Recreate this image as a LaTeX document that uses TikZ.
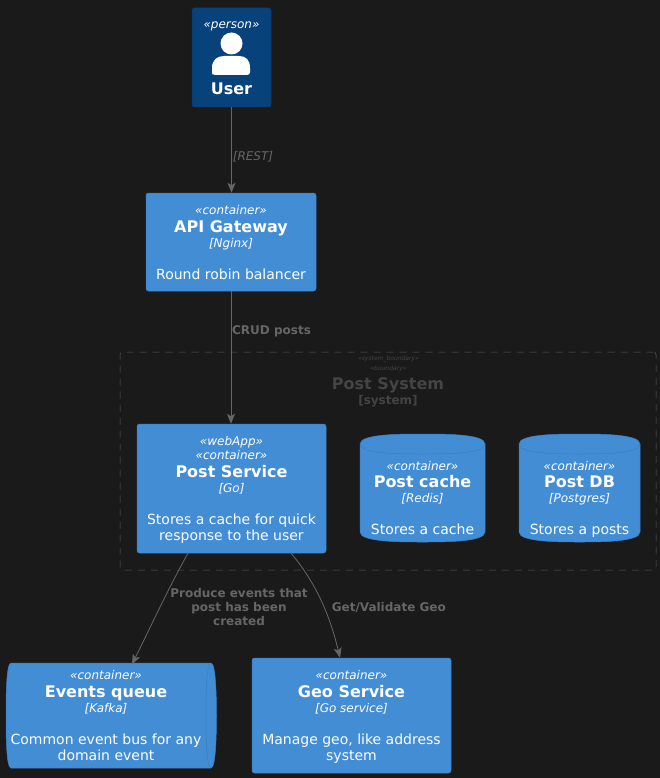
\documentclass[tikz,border=0pt]{standalone}
\usepackage{fontspec}
\setmainfont{DejaVu Sans}
\usetikzlibrary{arrows.meta,calc}
\definecolor{bg}{HTML}{1A1A1A}
\definecolor{personfill}{HTML}{08427B}
\definecolor{personline}{HTML}{073B6F}
\definecolor{contfill}{HTML}{438DD5}
\definecolor{contline}{HTML}{3C7FC0}
\definecolor{linkc}{HTML}{666666}
\definecolor{bound}{HTML}{444444}
\definecolor{dashc}{HTML}{5A5A5A}
\newcommand{\stA}{\rule[-2.83pt]{0pt}{13.97pt}}
\newcommand{\stT}{\rule[-2.83pt]{0pt}{15.77pt}}
\newcommand{\stB}{\rule[-3.78pt]{0pt}{18.63pt}}
\newcommand{\stC}{\rule[-3.3pt]{0pt}{16.3pt}}
\newcommand{\stereo}[1]{\fontsize{12}{0}\selectfont\itshape\stA «#1»}
\newcommand{\stereotop}[1]{\fontsize{12}{0}\selectfont\itshape\stT «#1»}
\newcommand{\ttl}[1]{\fontsize{16}{0}\selectfont\bfseries\stB #1}
\newcommand{\tech}[1]{\fontsize{12}{0}\selectfont\itshape\stA [#1]}
\newcommand{\dsc}[1]{\fontsize{14}{0}\selectfont\stC #1}
\newcommand{\gap}{\fontsize{14}{0}\selectfont\stC}
\tikzset{
  x=1pt,y=-1pt,
  stack/.style={execute at begin node={\lineskiplimit=16000pt\lineskip=0pt}},
  boxed/.style={stack,draw=contline,fill=contfill,line width=0.5pt,rounded corners=2.5pt,text=white,align=center,inner sep=0pt,minimum width=#1},
  textonly/.style={stack,text=white,align=center,inner sep=0pt},
  shapefill/.style={draw=contline,fill=contfill,line width=0.5pt},
  link/.style={draw=linkc,line width=0.8pt,-{Stealth[length=10pt,width=8pt,inset=2.5pt]}},
  linklabel/.style={text=linkc,align=center,inner sep=0pt,font=\fontsize{12}{14}\selectfont\bfseries},
  boundlabel/.style={text=bound,align=center,inner sep=0pt},
}
\begin{document}
\begin{tikzpicture}
\useasboundingbox (0,0) rectangle (660,778);
\fill[bg] (0,0) rectangle (660,778);
% boundary
\node[draw=dashc,dash pattern=on 7pt off 6pt,line width=0.5pt,rounded corners=2.5pt,minimum width=536pt,minimum height=218pt,inner sep=0pt] (boundary) at (388,461) {};
\node[boundlabel,font=\fontsize{6}{7}\selectfont\itshape] (bs) at (388.5,358.5) {«system\_boundary»};
\node[boundlabel,font=\fontsize{6}{7}\selectfont\itshape] (bb) at (388.5,368.5) {«boundary»};
\node[boundlabel,font=\fontsize{16}{18}\selectfont\bfseries] (bt) at (388,385.5) {Post System};
\node[boundlabel,font=\fontsize{12}{14}\selectfont\bfseries] (bt2) at (388,401.5) {[system]};
% user
\node[draw=personline,fill=personfill,line width=0.5pt,rounded corners=2.5pt,minimum width=79pt,minimum height=99pt,inner sep=0pt] (user) at (231.5,57.5) {};
\node[textonly] (userst) at (231.5,24) {\stereo{person}};
\fill[white] (231.5,43.5) circle (11);
\fill[white] (212,75) -- (212,68) .. controls (212,60) and (217,56) .. (224,56) -- (239,56) .. controls (246,56) and (250,60) .. (250,68) -- (250,72) .. controls (250,74) and (249,75) .. (247,75) -- (215,75) .. controls (213,75) and (212,74) .. (212,72) -- cycle;
\node[textonly] (usert) at (231.5,88.5) {\ttl{User}};
% api
\node[boxed=170pt,minimum height=98pt] (api) at (231,242) {\stereotop{container}\\\ttl{API Gateway}\\\tech{Nginx}\\\gap\\\dsc{Round robin balancer}};
% service
\node[boxed=189pt,minimum height=129pt] (svc) at (231.5,488.5) {\stereotop{webApp}\\\stereo{container}\\\ttl{Post Service}\\\tech{Go}\\\gap\\\dsc{Stores a cache for quick}\\\dsc{response to the user}};
% cache
\path[shapefill] (360,444) .. controls (360,434) and (400,434) .. (422.5,434) .. controls (445,434) and (485,434) .. (485,444) -- (485,532) .. controls (485,542) and (445,542) .. (422.5,542) .. controls (400,542) and (360,542) .. (360,532) -- cycle;
\draw[contline,line width=0.5pt] (360,444) .. controls (360,454) and (400,454) .. (422.5,454) .. controls (445,454) and (485,454) .. (485,444);
\node[textonly] (cache) at (422.5,498.5) {\stereo{container}\\\ttl{Post cache}\\\tech{Redis}\\\gap\\\dsc{Stores a cache}};
% db
\path[shapefill] (519,444) .. controls (519,434) and (559,434) .. (579.5,434) .. controls (600,434) and (640,434) .. (640,444) -- (640,532) .. controls (640,542) and (600,542) .. (579.5,542) .. controls (559,542) and (519,542) .. (519,532) -- cycle;
\draw[contline,line width=0.5pt] (519,444) .. controls (519,454) and (559,454) .. (579.5,454) .. controls (600,454) and (640,454) .. (640,444);
\node[textonly] (db) at (579.5,498.5) {\stereo{container}\\\ttl{Post DB}\\\tech{Postgres}\\\gap\\\dsc{Stores a posts}};
% queue
\path[shapefill] (11,663) -- (211,663) .. controls (216,663) and (216.5,700) .. (216.5,715.5) .. controls (216.5,731) and (216,768) .. (211,768) -- (11,768) .. controls (6,768) and (6,731) .. (6,715.5) .. controls (6,700) and (6,663) .. (11,663) -- cycle;
\draw[contline,line width=0.5pt] (211,663) .. controls (206,663) and (206,700) .. (206,715.5) .. controls (206,731) and (206,768) .. (211,768);
\node[textonly,minimum width=210pt,minimum height=105pt] (queue) at (106,716.3) {\stereo{container}\\\ttl{Events queue}\\\tech{Kafka}\\\gap\\\dsc{Common event bus for any}\\\dsc{domain event}};
% geo
\node[boxed=199pt,minimum height=115pt] (geo) at (351.5,715.5) {\stereotop{container}\\\ttl{Geo Service}\\\tech{Go service}\\\gap\\\dsc{Manage geo, like address}\\\dsc{system}};
% links
\draw[link] (user.south) -- (user.south |- api.north);
\draw[link] (api.south) -- (api.south |- svc.north);
\draw[link] ([xshift=-43.5pt]svc.south) .. controls (170,585) and (150,628) .. ([xshift=26pt,yshift=-0.8pt]queue.north);
\draw[link] ([xshift=59.5pt]svc.south) .. controls (318,585) and (331,620) .. ([xshift=-11.5pt]geo.north);
% link labels
\node[linklabel,font=\fontsize{12}{14}\selectfont\itshape] (l1) at (253,156.5) {[REST]};
\node[linklabel] (l2) at (271.5,331) {CRUD posts};
\node[linklabel] (l3) at (239,607) {Produce events that\\post has been\\created};
\node[linklabel] (l4) at (388.8,607) {Get/Validate Geo};
\end{tikzpicture}
\end{document}
